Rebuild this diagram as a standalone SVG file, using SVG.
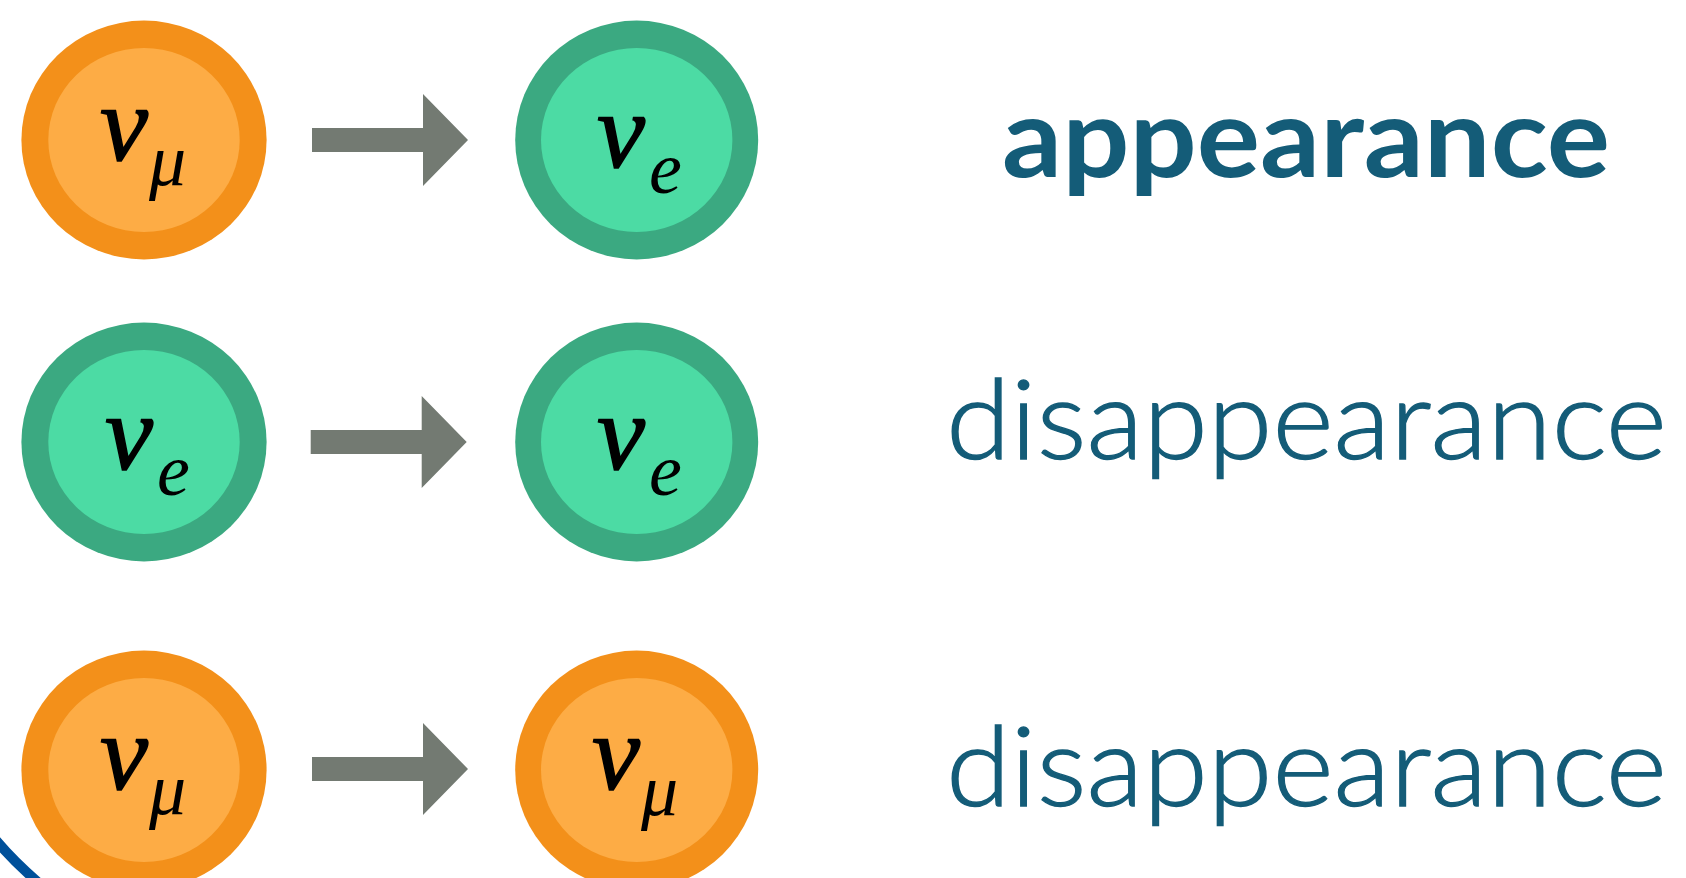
<svg xmlns="http://www.w3.org/2000/svg" width="1686" height="878" viewBox="0 0 1686 878">
<style>
.o-out{fill:#F3901A}
.o-in{fill:#FDAC45}
.g-out{fill:#3BA981}
.g-in{fill:#4CDBA4}
.nu{font-family:"Liberation Serif","Times New Roman",serif;font-style:italic;font-size:108px;fill:#000;stroke:#000;stroke-width:1.5}
.sub{font-family:"Liberation Serif","Times New Roman",serif;font-style:italic;font-size:74px;fill:#000}
.arrow{fill:#737A72}
.lbl{font-family:Lato,"Open Sans",sans-serif;font-size:111px;fill:#145C78}
.bold{font-weight:700}
.light{font-weight:300;stroke:#145C78;stroke-width:1.3}
</style>
<defs>
<path id="arr" d="M-156,-12 H-45 V-46 L0,0 L-45,46 V12 H-156 Z"/>
</defs>
<path d="M-6,838 Q14,862 40,884" fill="none" stroke="#00509A" stroke-width="10"/>
<g id="n1a">
<ellipse class="o-out" cx="144" cy="140" rx="122.6" ry="119.4"/>
<ellipse class="o-in" cx="144" cy="140" rx="95.7" ry="92"/>
<text class="nu" x="100" y="160">ν</text><text class="sub" x="149" y="185">μ</text>
</g>
<g id="n1b">
<ellipse class="g-out" cx="636.7" cy="140" rx="121.5" ry="119.4"/>
<ellipse class="g-in" cx="636.7" cy="140" rx="95.7" ry="92"/>
<text class="nu" x="597" y="167">ν</text><text class="sub" x="649" y="193">e</text>
</g>
<g id="n2a">
<ellipse class="g-out" cx="144" cy="442" rx="122.6" ry="119.4"/>
<ellipse class="g-in" cx="144" cy="442" rx="95.7" ry="92"/>
<text class="nu" x="105" y="469">ν</text><text class="sub" x="157" y="495">e</text>
</g>
<g id="n2b">
<ellipse class="g-out" cx="636.7" cy="442" rx="121.5" ry="119.4"/>
<ellipse class="g-in" cx="636.7" cy="442" rx="95.7" ry="92"/>
<text class="nu" x="597" y="469">ν</text><text class="sub" x="649" y="495">e</text>
</g>
<g id="n3a">
<ellipse class="o-out" cx="144" cy="770" rx="122.6" ry="119.4"/>
<ellipse class="o-in" cx="144" cy="770" rx="95.7" ry="92"/>
<text class="nu" x="100" y="789">ν</text><text class="sub" x="149" y="814">μ</text>
</g>
<g id="n3b">
<ellipse class="o-out" cx="636.7" cy="770" rx="121.5" ry="119.4"/>
<ellipse class="o-in" cx="636.7" cy="770" rx="95.7" ry="92"/>
<text class="nu" x="592" y="789">ν</text><text class="sub" x="641" y="815">μ</text>
</g>
<g id="connectors">
<use href="#arr" class="arrow" transform="translate(468,140)"/>
<use href="#arr" class="arrow" transform="translate(466.7,442)"/>
<use href="#arr" class="arrow" transform="translate(468,769)"/>
</g>
<g id="labels">
<text class="lbl bold" x="1002" y="177" textLength="608" lengthAdjust="spacingAndGlyphs">appearance</text>
<text class="lbl light" x="946" y="459" textLength="721" lengthAdjust="spacingAndGlyphs">disappearance</text>
<text class="lbl light" x="946" y="806" textLength="721" lengthAdjust="spacingAndGlyphs">disappearance</text>
</g>
</svg>
